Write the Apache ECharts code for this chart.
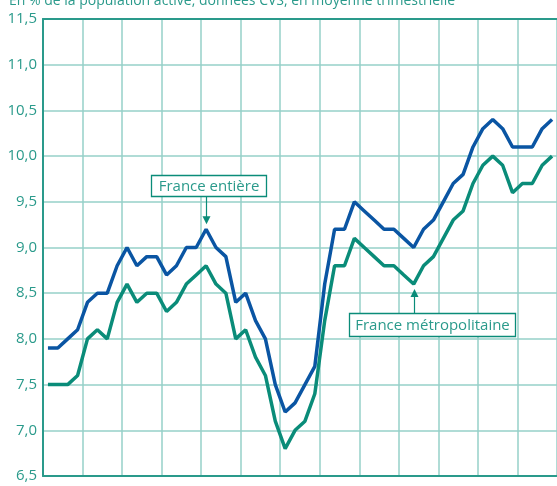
<!DOCTYPE html>
<html><head><meta charset="utf-8">
<script src="https://cdn.jsdelivr.net/npm/echarts@6/dist/echarts.min.js"></script>
<style>html,body{margin:0;padding:0;background:#fff}#c{width:557px;height:486px}</style>
</head><body><div id="c"></div>
<script>
// Quarters 2002T1 .. 2014T4
const years = [2002,2003,2004,2005,2006,2007,2008,2009,2010,2011,2012,2013,2014];
const quarters = [];
years.forEach(y => { for (let q = 1; q <= 4; q++) quarters.push(y + 'T' + q); });

const franceEntiere = [
  7.9,7.9,8.0,8.1, 8.4,8.5,8.5,8.8, 9.0,8.8,8.9,8.9, 8.7,8.8,9.0,9.0,
  9.2,9.0,8.9,8.4, 8.5,8.2,8.0,7.5, 7.2,7.3,7.5,7.7, 8.6,9.2,9.2,9.5,
  9.4,9.3,9.2,9.2, 9.1,9.0,9.2,9.3, 9.5,9.7,9.8,10.1, 10.3,10.4,10.3,10.1,
  10.1,10.1,10.3,10.4
];
const franceMetro = [
  7.5,7.5,7.5,7.6, 8.0,8.1,8.0,8.4, 8.6,8.4,8.5,8.5, 8.3,8.4,8.6,8.7,
  8.8,8.6,8.5,8.0, 8.1,7.8,7.6,7.1, 6.8,7.0,7.1,7.4, 8.2,8.8,8.8,9.1,
  9.0,8.9,8.8,8.8, 8.7,8.6,8.8,8.9, 9.1,9.3,9.4,9.7, 9.9,10.0,9.9,9.6,
  9.7,9.7,9.9,10.0
];
const yTicks = [6.5,7.0,7.5,8.0,8.5,9.0,9.5,10.0,10.5,11.0,11.5];
const titleText = 'En % de la population active, données CVS, en moyenne trimestrielle';
const labelEntiere = 'France entière';
const labelMetro = 'France métropolitaine';
const idxEntiere = 16;
const idxMetro = 37;

const TEAL = '#2a9a8b', GRID = '#96d1c9', BLUE = '#0a55a3', GREEN = '#0a8c79';
const FONT = '"Open Sans", "Noto Sans", sans-serif';

const chart = echarts.init(document.getElementById('c'), null, {renderer: 'canvas'});
const option = {
  animation: false,
  title: { text: titleText, left: 4, top: -11,
    textStyle: { color: TEAL, fontSize: 14, fontWeight: 'normal', fontFamily: FONT } },
  grid: { left: 43, right: 0, top: 19, bottom: 10 },
  xAxis: [{
    type: 'category', data: quarters, boundaryGap: true,
    axisLine: { show: true, lineStyle: { color: TEAL, width: 2 } },
    axisTick: { show: false }, axisLabel: { show: false },
    splitLine: { show: true, interval: 3, lineStyle: { color: GRID, width: 1.5 } }
  }, {
    type: 'category', data: quarters, position: 'top', boundaryGap: true,
    axisLine: { show: true, lineStyle: { color: TEAL, width: 2 } },
    axisTick: { show: false }, axisLabel: { show: false }, splitLine: { show: false }
  }],
  yAxis: {
    type: 'value', min: yTicks[0], max: yTicks[yTicks.length - 1], interval: 0.5,
    axisLine: { show: true, lineStyle: { color: TEAL, width: 2 } },
    axisTick: { show: false },
    axisLabel: { color: TEAL, fontSize: 15, fontFamily: FONT, margin: 6,
      formatter: v => v.toFixed(1).replace('.', ',') },
    splitLine: { show: true, lineStyle: { color: GRID, width: 1.5 } }
  },
  series: [
    { name: labelEntiere, type: 'line', data: franceEntiere, symbol: 'none',
      lineStyle: { color: BLUE, width: 3.5 }, z: 3 },
    { name: labelMetro, type: 'line', data: franceMetro, symbol: 'none',
      lineStyle: { color: GREEN, width: 3.5 }, z: 3 }
  ]
};
chart.setOption(option);

function annot(idx, val, text, boxW, boxH, boxOffX, above) {
  const p = chart.convertToPixel({xAxisIndex: 0, yAxisIndex: 0}, [idx, val]);
  const x = Math.round(p[0]) + 0.5, y = p[1];
  const els = [];
  let tipY, lineY2, boxY;
  if (above) {
    tipY = y - 5; boxY = tipY - 28 - boxH;
    els.push({ type: 'line', shape: { x1: x, y1: boxY + boxH, x2: x, y2: tipY - 6 },
      style: { stroke: GREEN, lineWidth: 1.2 }, z: 10 });
    els.push({ type: 'polygon', shape: { points: [[x - 4, tipY - 8], [x + 4, tipY - 8], [x, tipY]] },
      style: { fill: GREEN }, z: 10 });
  } else {
    tipY = y + 5; boxY = tipY + 24;
    els.push({ type: 'line', shape: { x1: x, y1: boxY, x2: x, y2: tipY + 6 },
      style: { stroke: GREEN, lineWidth: 1.2 }, z: 10 });
    els.push({ type: 'polygon', shape: { points: [[x - 4, tipY + 8], [x + 4, tipY + 8], [x, tipY]] },
      style: { fill: GREEN }, z: 10 });
  }
  const bx = Math.round(x + boxOffX) + 0.5;
  els.push({ type: 'rect', shape: { x: bx, y: Math.round(boxY) + 0.5, width: boxW, height: boxH },
    style: { fill: '#fff', stroke: GREEN, lineWidth: 1.3 }, z: 10 });
  els.push({ type: 'text', x: bx + boxW / 2, y: Math.round(boxY) + boxH / 2 + 1,
    style: { text: text, fill: TEAL, font: '15px ' + FONT, textAlign: 'center', textVerticalAlign: 'middle' }, z: 11 });
  return els;
}
chart.setOption({ graphic: { elements: [
  ...annot(idxEntiere, franceEntiere[idxEntiere], labelEntiere, 115, 21, -55.5, true),
  ...annot(idxMetro, franceMetro[idxMetro], labelMetro, 166, 23, -65.5, false)
] } });
</script></body></html>
